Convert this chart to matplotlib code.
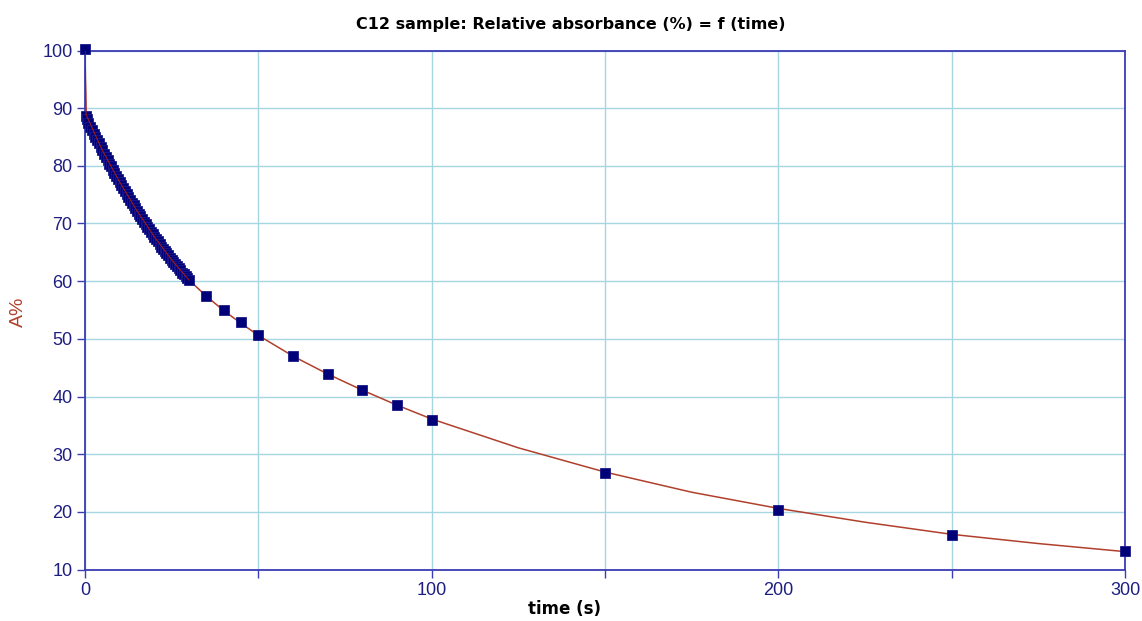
"""C12 sample: relative absorbance vs time, measured points plus fitted decay curve."""

import matplotlib
matplotlib.use("Agg")
import matplotlib.pyplot as plt
import matplotlib.ticker as mticker

# ── Data ──
time_s = [0, 0.3, 0.6, 1, 1.5, 2, 2.5, 3, 3.5, 4, 4.5, 5, 5.5, 6, 6.5, 7, 7.5, 8, 8.5,
          9, 9.5, 10, 10.5, 11, 11.5, 12, 12.5, 13, 13.5, 14, 14.5, 15, 15.5, 16, 16.5,
          17, 17.5, 18, 18.5, 19, 19.5, 20, 20.5, 21, 21.5, 22, 22.5, 23, 23.5, 24,
          24.5, 25, 25.5, 26, 26.5, 27, 27.5, 28, 28.5, 29, 29.5, 30,
          35, 40, 45, 50, 60, 70, 80, 90, 100, 150, 200, 250, 300]
absorb = [100.3, 88.7, 88.1, 87.5, 86.8, 86.2, 85.6, 85.0, 84.4, 83.9, 83.3, 82.7, 82.1,
          81.6, 81.0, 80.4, 79.9, 79.3, 78.8, 78.3, 77.7, 77.2, 76.7, 76.2, 75.6, 75.1,
          74.6, 74.1, 73.6, 73.2, 72.7, 72.2, 71.7, 71.3, 70.8, 70.3, 69.9, 69.4, 69.0,
          68.6, 68.1, 67.7, 67.3, 66.9, 66.4, 66.0, 65.6, 65.2, 64.8, 64.5, 64.1, 63.7,
          63.3, 63.0, 62.6, 62.2, 61.9, 61.5, 61.2, 60.9, 60.5, 60.2,
          57.5, 55.0, 52.9, 50.7, 47.1, 43.9, 41.1, 38.5, 36.0, 26.7, 20.4, 16.0, 13.2]

# fitted curve, sampled where it is visible between markers
fit_t = [0, 0.3, 5, 10, 15, 20, 25, 30, 35, 40, 45, 50, 60, 70, 80, 90, 100,
         125, 150, 175, 200, 225, 250, 275, 300]
fit_a = [100.0, 88.9, 82.7, 77.2, 72.2, 67.7, 63.7, 60.2, 57.4, 54.9, 52.7, 50.6, 47.0,
         43.9, 41.1, 38.5, 36.1, 31.1, 26.9, 23.4, 20.6, 18.2, 16.1, 14.5, 13.1]

x_major = [0, 100, 200, 300]
x_minor = [50, 150, 250]
y_ticks = list(range(10, 101, 10))

# ── Style ──
AXIS_BLUE = "#3c3cb4"
TICK_NAVY = "#1e1e82"
GRID_CYAN = "#a6d6e0"
FIT_RED = "#b0402c"
MARK_NAVY = "#000078"

plt.rcParams.update({
    "font.family": ["Liberation Sans", "DejaVu Sans"],
    "font.size": 13,
})

fig = plt.figure(figsize=(11.42, 6.21), dpi=100)
ax = fig.add_axes([85 / 1142, 1 - 569.5 / 621, 1040 / 1142, (569.5 - 50.5) / 621])

ax.plot(fit_t, fit_a, color=FIT_RED, lw=1.1, zorder=3)
ax.plot(time_s, absorb, linestyle="none", marker="s", markersize=6.8,
        markerfacecolor=MARK_NAVY, markeredgecolor="#1a1a8c", markeredgewidth=0.6,
        zorder=4, clip_on=False)
# fit line shows through the dense block of markers in the reference
ax.plot(fit_t[:8], fit_a[:8], color="#a01818", lw=0.8, zorder=5)

ax.set_xlim(0, 300)
ax.set_ylim(10, 100)

ax.xaxis.set_major_locator(mticker.FixedLocator(x_major))
ax.xaxis.set_minor_locator(mticker.FixedLocator(x_minor))
ax.yaxis.set_major_locator(mticker.FixedLocator(y_ticks))

ax.grid(which="both", axis="x", color=GRID_CYAN, lw=1)
ax.grid(which="major", axis="y", color=GRID_CYAN, lw=1)
ax.set_axisbelow(True)

for sp in ax.spines.values():
    sp.set_color(AXIS_BLUE)
    sp.set_linewidth(1.3)

ax.tick_params(axis="both", which="both", direction="out", length=6, width=1,
               color=AXIS_BLUE, labelcolor=TICK_NAVY, labelsize=13, pad=3)
ax.tick_params(axis="x", which="minor", labelbottom=False)

fig.text(0.5, 1 - 25 / 621, "C12 sample: Relative absorbance (%) = f (time)",
         ha="center", va="center", fontsize=11.5, fontweight="bold", color="black",
         family=["DejaVu Sans"])
fig.text(565 / 1142, 1 - 609 / 621, "time (s)", ha="center", va="center",
         fontsize=12, fontweight="bold", color="black", family=["DejaVu Sans"])
fig.text(18 / 1142, 1 - 312 / 621, "A%", ha="center", va="center", rotation=90,
         fontsize=14, color=FIT_RED)

fig.savefig("out.png", dpi=100)
plt.close(fig)
